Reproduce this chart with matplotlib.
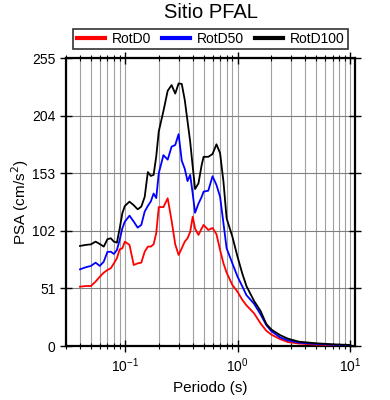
import matplotlib
matplotlib.use('Agg')
import matplotlib.pyplot as plt
from matplotlib.ticker import LogLocator, NullFormatter

plt.rcParams['font.family'] = ['Liberation Sans', 'DejaVu Sans']

# periods (s)
periodo = [0.04, 0.045, 0.05, 0.055, 0.06, 0.065, 0.07, 0.075, 0.08, 0.085, 0.09, 0.095,
           0.1, 0.11, 0.12, 0.13, 0.14, 0.15, 0.16, 0.17, 0.18, 0.19, 0.2,
           0.22, 0.24, 0.26, 0.28, 0.3, 0.32, 0.34, 0.36, 0.38, 0.4, 0.42, 0.45, 0.48, 0.5,
           0.55, 0.6, 0.65, 0.7, 0.75, 0.8, 0.9, 1.0,
           1.1, 1.2, 1.4, 1.6, 1.8, 2.0,
           2.4, 2.8, 3.5, 5.0, 7.0, 10.0]

rotd100 = [88.6, 89.5, 90, 92.4, 90.3, 88, 94.5, 95.4, 92.4, 91.5, 104, 117.5,
           124, 127.8, 124.6, 121, 123.4, 132, 154, 150.6, 151.5, 168, 190,
           208, 226, 231, 223.5, 232.5, 232, 218, 199, 181, 159, 139, 144, 160, 167.5,
           167.5, 170, 178.6, 170.7, 145.5, 113, 96.8, 79,
           64.4, 53, 40, 31, 19.5, 14.5,
           9.5, 6.5, 3.8, 2.4, 1.5, 0.9]

rotd50 = [67.9, 69.7, 70.9, 73.8, 70.9, 74.7, 83.3, 83.5, 81.5, 85, 93.9, 104.2,
          110.1, 115.4, 110.1, 104.8, 107.2, 119, 124, 128, 135, 131, 153,
          169, 165, 176.5, 178, 187.6, 164, 157, 146, 151.5, 135, 118, 126, 132, 136.7,
          137.5, 150.3, 142.6, 132.2, 108.7, 86.5, 73.2, 61.4,
          53, 45, 37.5, 28, 18.5, 13,
          7.5, 5, 3, 1.8, 1.1, 0.6]

rotd0 = [52.5, 53.1, 53.1, 57, 61.4, 64.9, 67.3, 68.8, 73.2, 77.7, 85.6, 86.5,
         92.4, 89.5, 71.7, 73.2, 73.8, 83.5, 88, 88, 90, 100, 123,
         123, 130.8, 111, 90, 80.6, 86.5, 92.4, 95.4, 101, 114.5, 104, 98.3, 104, 107.2,
         102.7, 104.5, 99, 85, 73.2, 65, 54, 48,
         41, 36, 29, 20, 13.5, 10,
         6, 3.5, 2.2, 1.2, 0.8, 0.4]

yticks = [0, 51, 102, 153, 204, 255]

fig = plt.figure(figsize=(3.9, 4.0), dpi=100)
ax = fig.add_axes([0.169, 0.135, 0.741, 0.72])

ax.plot(periodo, rotd0, color='#ff0000', lw=1.3, label='RotD0', zorder=3)
ax.plot(periodo, rotd50, color='#0000ff', lw=1.3, label='RotD50', zorder=4)
ax.plot(periodo, rotd100, color='black', lw=1.3, label='RotD100', zorder=5)

ax.set_xscale('log')
ax.set_xlim(0.03, 11)
ax.set_ylim(0, 255)
ax.set_yticks(yticks)
ax.xaxis.set_minor_locator(LogLocator(base=10, subs=range(2, 10), numticks=20))
ax.xaxis.set_minor_formatter(NullFormatter())

ax.grid(True, which='both', axis='x', color='#a0a0a0', lw=0.8)
ax.grid(True, which='major', axis='y', color='#808080', lw=0.8)
ax.set_axisbelow(True)

ax.tick_params(which='major', direction='inout', length=8, width=1, top=True, right=True, labelsize=10)
ax.tick_params(which='minor', direction='inout', length=4, width=0.8, top=True, right=True)
for s in ax.spines.values():
    s.set_linewidth(1.6)

ax.set_xlabel('Periodo (s)', fontsize=11)
ax.set_ylabel('PSA (cm/s$^2$)', fontsize=11, labelpad=1)
fig.text(0.54, 0.968, 'Sitio PFAL', ha='center', va='center', fontsize=14.5)

leg = fig.legend(loc='center', bbox_to_anchor=(0.54, 0.9025), ncol=3, fontsize=10,
                 frameon=True, fancybox=False, handlelength=2.0, handletextpad=0.5,
                 columnspacing=0.8, borderpad=0.25, borderaxespad=0)
leg.get_frame().set_edgecolor('black')
leg.get_frame().set_linewidth(1.2)
for h in leg.get_lines():
    h.set_linewidth(3)

fig.savefig('out.png', dpi=100)
